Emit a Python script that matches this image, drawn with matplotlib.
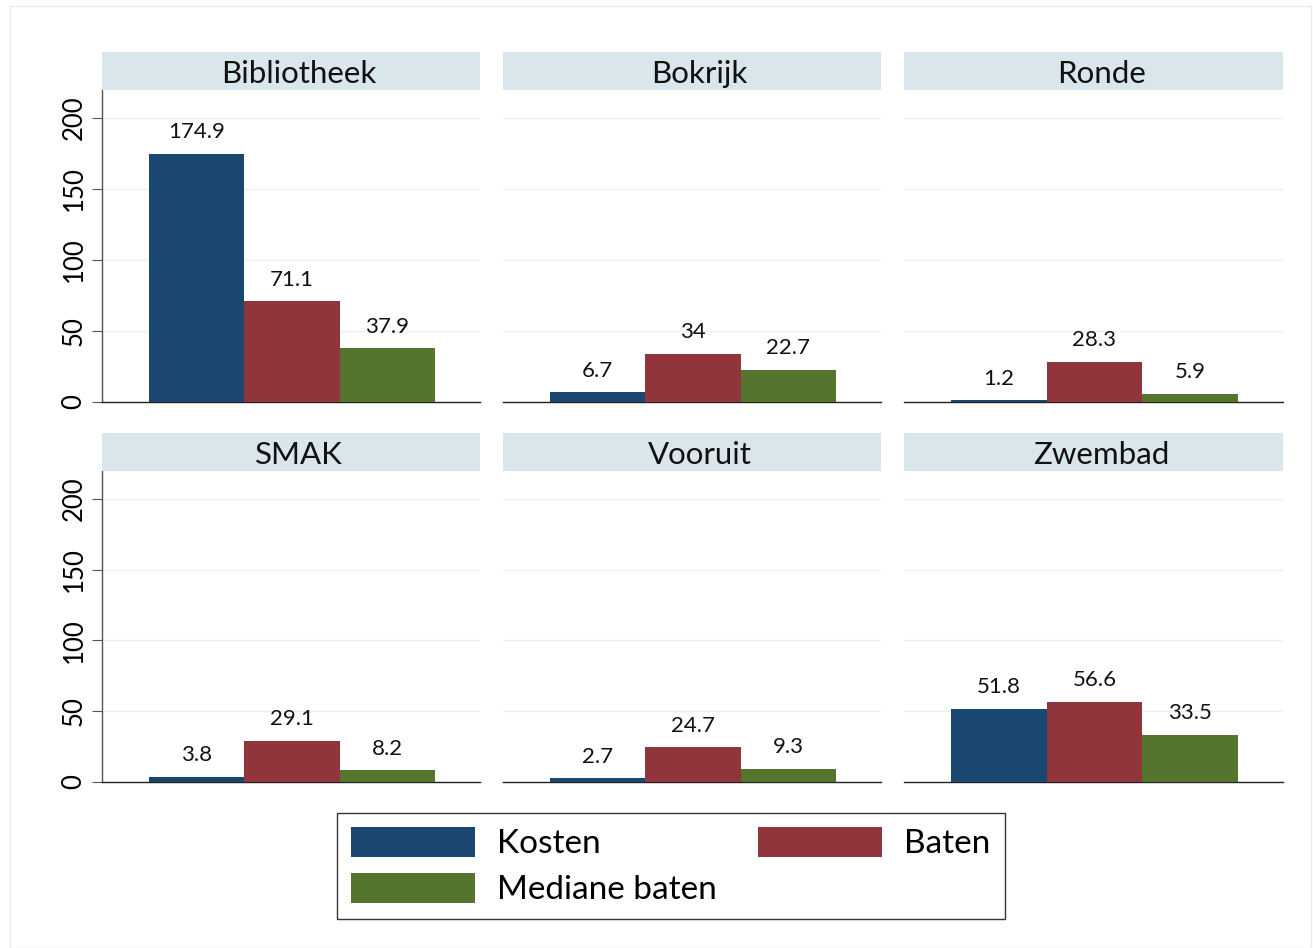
import matplotlib
matplotlib.use("Agg")
import matplotlib.pyplot as plt
from matplotlib.patches import Patch, Rectangle

# ── Data ─────────────────────────────────────────────────────────────────────
groups  = ["Bibliotheek", "Bokrijk", "Ronde", "SMAK", "Vooruit", "Zwembad"]
kosten  = [174.9, 6.7, 1.2, 3.8, 2.7, 51.8]
baten   = [71.1, 34, 28.3, 29.1, 24.7, 56.6]
mediane = [37.9, 22.7, 5.9, 8.2, 9.3, 33.5]
series_names = ["Kosten", "Baten", "Mediane baten"]
yticks = [0, 50, 100, 150, 200]

# ── Style ────────────────────────────────────────────────────────────────────
plt.rcParams["font.family"] = ["Lato", "DejaVu Sans"]
COLS  = ["#1A476F", "#90353B", "#55752F"]
STRIP = "#D9E6EB"
GRID  = "#EAF2F3"

W, H = 1313, 948
fig = plt.figure(figsize=(W / 100, H / 100), dpi=100)
fig.patch.set_facecolor("white")

# light frame round the graph region
fig.patches.append(Rectangle((10 / W, 0), (W - 12) / W, (H - 6) / H,
                             transform=fig.transFigure, fill=False,
                             edgecolor="#E6ECEE", linewidth=1.0))

def fbox(x0, y0, x1, y1):
    # pixel box (top-left origin) -> figure fraction rect
    return [x0 / W, 1 - y1 / H, (x1 - x0) / W, (y1 - y0) / H]

col_x = [(102, 480), (503, 881), (904, 1283)]
row_y = [(52, 90, 402), (433, 471, 782)]

for i, name in enumerate(groups):
    r, c = divmod(i, 3)
    x0, x1 = col_x[c]
    st, top, bot = row_y[r]

    ax = fig.add_axes(fbox(x0, top, x1, bot))
    vals = [kosten[i], baten[i], mediane[i]]
    for j, v in enumerate(vals):
        ax.bar(j, v, width=1.0, color=COLS[j], edgecolor="none", zorder=3)
        ax.annotate(f"{v:g}", (j, v), xytext=(0, 15.5), textcoords="offset points",
                    ha="center", va="center", fontsize=16, color="#111111")
    ax.set_xlim(-0.99, 2.97)
    ax.set_ylim(0, 219.7)
    ax.set_yticks(yticks)
    ax.set_xticks([])
    ax.grid(axis="y", color=GRID, linewidth=1.0, zorder=0)
    ax.set_axisbelow(True)
    for s in ("top", "right"):
        ax.spines[s].set_visible(False)
    ax.spines["bottom"].set_color("#222222")
    ax.spines["bottom"].set_linewidth(1.0)
    if c == 0:
        ax.spines["left"].set_color("#555555")
        ax.spines["left"].set_linewidth(1.0)
        ax.tick_params(axis="y", length=7, width=0.8, color="#555555", pad=4,
                       labelsize=18.5, labelrotation=90)
        for lab in ax.get_yticklabels():
            lab.set_va("center")
    else:
        ax.spines["left"].set_visible(False)
        ax.tick_params(axis="y", length=0, labelleft=False)

    sax = fig.add_axes(fbox(x0, st, x1, top))
    sax.set_facecolor(STRIP)
    sax.set_xticks([])
    sax.set_yticks([])
    for s in sax.spines.values():
        s.set_visible(False)
    sax.text(0.52, 0.42, name, ha="center", va="center", fontsize=22.5,
             transform=sax.transAxes, color="#111111")

# ── Legend ───────────────────────────────────────────────────────────────────
handles = [Patch(facecolor=COLS[0], edgecolor="none"),
           Patch(facecolor=COLS[2], edgecolor="none"),
           Patch(facecolor=COLS[1], edgecolor="none")]
labels = [series_names[0], series_names[2], series_names[1]]
fig.legend(handles, labels, ncol=2, loc="upper left",
           bbox_to_anchor=(337 / W, 1 - 813 / H),
           fontsize=24, frameon=True, fancybox=False,
           edgecolor="#333333", framealpha=1,
           handlelength=3.72, handleheight=1.0, handletextpad=0.66,
           columnspacing=1.25, labelspacing=0.4, borderpad=0.42,
           borderaxespad=0)

fig.savefig("out.png", dpi=100, facecolor="white")
